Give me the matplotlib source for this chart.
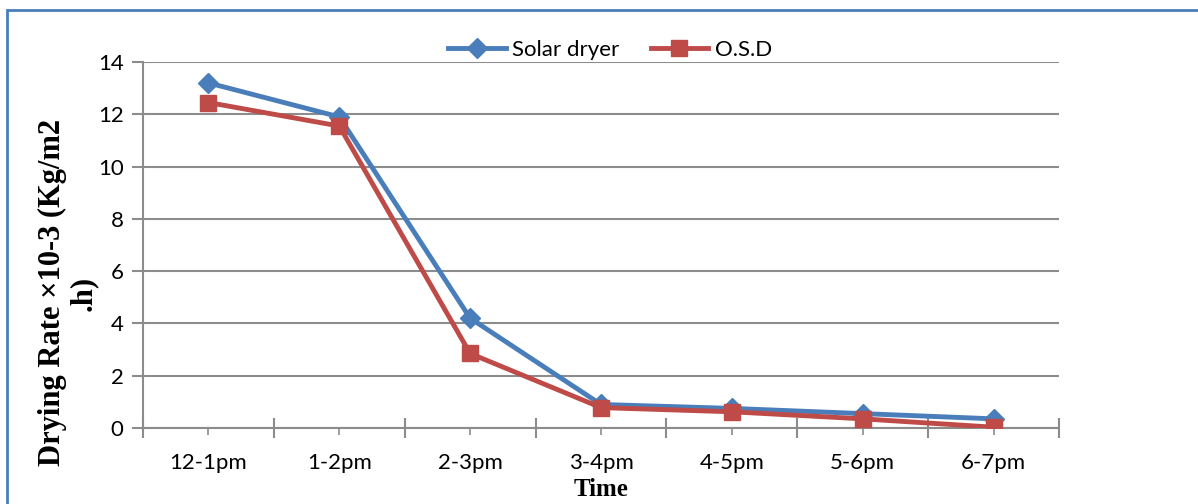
import matplotlib.pyplot as plt
from matplotlib.patches import Rectangle

# drying rate per hourly interval
time_slots = ["12-1pm", "1-2pm", "2-3pm", "3-4pm", "4-5pm", "5-6pm", "6-7pm"]
solar_dryer = [13.2, 11.9, 4.2, 0.9, 0.75, 0.55, 0.35]
osd = [12.45, 11.55, 2.85, 0.78, 0.62, 0.35, 0.03]

blue = "#4A7EBB"
red = "#BE4B48"
grid_gray = "#8C8C8C"

fig = plt.figure(figsize=(11.98, 5.04), dpi=100)
ax = fig.add_axes([143 / 1198, 1 - 428 / 504, (1059 - 143) / 1198, (428 - 62) / 504])

x = list(range(len(time_slots)))
ax.plot(x, solar_dryer, color=blue, lw=3.5, marker="D", ms=10,
        label="Solar dryer", zorder=3)
ax.plot(x, osd, color=red, lw=3.5, marker="s", ms=12,
        label="O.S.D", zorder=4)

ax.set_xlim(-0.5, len(time_slots) - 0.5)
ax.set_ylim(0, 14)
ax.set_yticks(range(0, 15, 2))
ax.yaxis.grid(True, color=grid_gray, lw=1.5)
ax.set_axisbelow(True)

ax.set_xticks(x)
ax.set_xticklabels(time_slots)
ax.set_xticks([i - 0.5 for i in range(len(time_slots) + 1)], minor=True)
ax.tick_params(axis="x", which="major", direction="out", length=5,
               width=1.2, color=grid_gray, labelsize=16, pad=13)
ax.tick_params(axis="x", which="minor", direction="inout", length=14,
               width=1.5, color=grid_gray)
ax.tick_params(axis="y", direction="out", length=8, width=1.5,
               color=grid_gray, labelsize=16, pad=6)

for side in ["top", "right"]:
    ax.spines[side].set_visible(False)
for side in ["left", "bottom"]:
    ax.spines[side].set_color(grid_gray)
    ax.spines[side].set_linewidth(1.5)

for lab in ax.get_xticklabels() + ax.get_yticklabels():
    lab.set_fontfamily("Lato")

fig.text(601 / 1198, 1 - 490 / 504, "Time", ha="center", va="center",
         fontfamily="Liberation Serif", fontweight="bold", fontsize=18)
fig.text(68 / 1198, 1 - 293 / 504, "Drying Rate \u00d710-3 (Kg/m2\n.h)",
         ha="center", va="center", rotation=90, multialignment="center",
         fontfamily="Liberation Serif", fontweight="bold", fontsize=22,
         linespacing=1.05)

fig.legend(loc="center", bbox_to_anchor=(610 / 1198, 1 - 50 / 504), ncol=2,
           frameon=False, prop={"family": "Lato", "size": 16},
           handlelength=2.6, columnspacing=1.4, handletextpad=0.3)

# outer frame
fig.patches.append(Rectangle((7 / 1198, -0.2), 1.5, 1.2 - 10 / 504,
                             transform=fig.transFigure, fill=False,
                             edgecolor=blue, lw=2))

fig.savefig("out.png", dpi=100)
